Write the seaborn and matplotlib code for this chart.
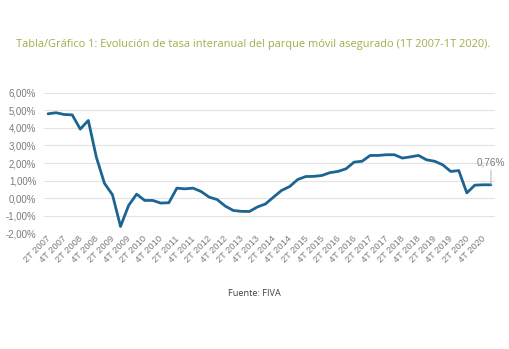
import matplotlib
matplotlib.use("Agg")
import matplotlib.pyplot as plt
import matplotlib.transforms as mtransforms
import seaborn as sns
import pandas as pd

quarters = [f"{q}T {y}" for y in range(2007, 2021) for q in (1, 2, 3, 4)]
values = [4.80, 4.86, 4.76, 4.74, 3.93, 4.42, 2.33, 0.85, 0.19, -1.61,
          -0.42, 0.23, -0.13, -0.13, -0.28, -0.26, 0.57, 0.53, 0.57, 0.38,
          0.06, -0.08, -0.45, -0.70, -0.75, -0.76, -0.50, -0.33, 0.06, 0.44,
          0.66, 1.06, 1.23, 1.24, 1.29, 1.45, 1.52, 1.67, 2.05, 2.10,
          2.43, 2.43, 2.47, 2.47, 2.28, 2.35, 2.43, 2.18, 2.10, 1.90,
          1.52, 1.57, 0.30, 0.74, 0.76, 0.76]
yticks = [-2, -1, 0, 1, 2, 3, 4, 5, 6]
title = "Tabla/Gráfico 1: Evolución de tasa interanual del parque móvil asegurado (1T 2007-1T 2020)."
source = "Fuente: FIVA"
last_label = "0,76%"

df = pd.DataFrame({"idx": range(len(values)), "quarter": quarters, "value": values})

sns.set_theme(style="white")
plt.rcParams["font.family"] = ["Liberation Sans", "DejaVu Sans"]

fig = plt.figure(figsize=(5.10, 3.49), dpi=100)
ax = fig.add_axes([0.0863, 0.3315, 0.8843, 0.4029])

sns.lineplot(data=df, x="idx", y="value", ax=ax, color="#1c6592", linewidth=2.0)

ax.set_xlim(-0.5, len(values) - 0.5)
ax.set_ylim(-2, 6)
ax.set_yticks(yticks)
ax.set_yticklabels([f"{v:.2f}%".replace(".", ",") for v in yticks], color="#7a7a7a", fontsize=6.9)
ax.tick_params(axis="y", length=0, pad=5.5)
ax.grid(axis="y", color="#e3e3e3", linewidth=0.8)
ax.grid(axis="x", visible=False)
for s in ax.spines.values():
    s.set_visible(False)

tick_pos = list(range(1, len(values), 2))
ax.set_xticks(tick_pos)
ax.set_xticklabels([quarters[i] for i in tick_pos], rotation=45, ha="right",
                   rotation_mode="anchor", va="center", color="#7a7a7a", fontsize=6.7)
ax.tick_params(axis="x", length=0, pad=3)
offset = mtransforms.ScaledTranslation(-7 / 100, 0, fig.dpi_scale_trans)
for lbl in ax.get_xticklabels():
    lbl.set_transform(lbl.get_transform() + offset)
ax.set_xlabel("")
ax.set_ylabel("")

# leader line and annotation for last value
xl = len(values) - 1
ax.annotate(last_label, xy=(xl, values[-1]), xytext=(xl, values[-1] + 1.0),
            ha="center", va="bottom", color="#7a7a7a", fontsize=7.2,
            arrowprops=dict(arrowstyle="-", color="#b0b0b0", linewidth=0.7,
                            shrinkA=0, shrinkB=0))

fig.text(0.497, 1 - 45 / 349, title, ha="center", va="center",
         color="#a5ab48", fontsize=7.9, family=["Open Sans", "DejaVu Sans"])
fig.text(0.498, 1 - 294 / 349, source, ha="center", va="center",
         color="#404040", fontsize=6.6, family=["Open Sans", "DejaVu Sans"])

fig.savefig("out.png", dpi=100, facecolor="white")
